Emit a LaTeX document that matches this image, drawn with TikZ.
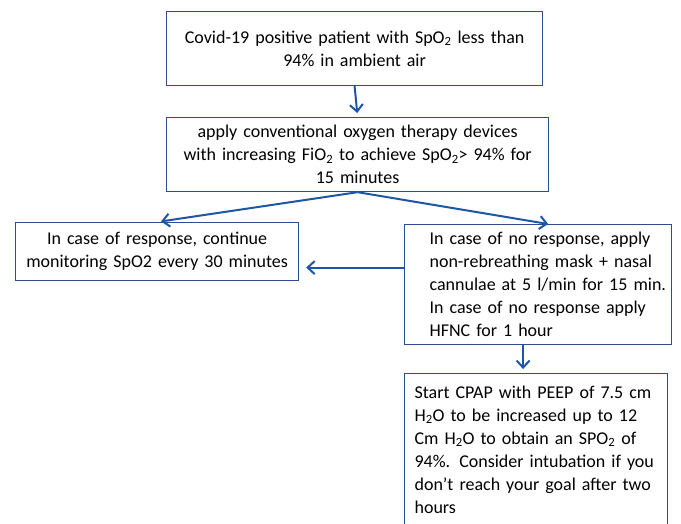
\documentclass[tikz,border=0pt]{standalone}
\usepackage{fontspec}
\setmainfont{Carlito}
\usetikzlibrary{arrows.meta}
\definecolor{boxblue}{HTML}{2C4D8F}
\definecolor{arrowblue}{HTML}{1F55A5}
\tikzset{
  box/.style={draw=boxblue, line width=1.2pt, rectangle, anchor=north west,
    inner ysep=3pt, font=\fontsize{18}{23}\selectfont},
  arr/.style={draw=arrowblue, line width=2pt,
    -{Straight Barb[length=7pt,width=13pt]}}
}
\begin{document}
\begin{tikzpicture}[x=1pt,y=-1pt]
\useasboundingbox (0,0) rectangle (681,524);
\clip (0,0) rectangle (681,524);

% --- the patient at the start
\node[box, minimum width=376pt, minimum height=74pt, inner xsep=4pt,
  text width=368pt, align=center] (covid) at (166,11)
  {Covid-19 positive patient with SpO\textsubscript{2} less than\\
   94\%  in ambient air};

% --- first therapy
\node[box, minimum width=382pt, minimum height=74pt, inner xsep=4pt,
  text width=374pt, align=center] (conv) at (166,117)
  {apply conventional oxygen therapy devices\\
   with increasing FiO\textsubscript{2} to achieve SpO\textsubscript{2}> 94\% for\\
   15 minutes};

% --- the two outcomes
\node[box, minimum width=283pt, minimum height=58pt, inner xsep=4pt,
  text width=275pt, align=center] (resp) at (15,222)
  {In case of response, continue\\
   monitoring SpO2 every 30 minutes};

\node[box, minimum width=267pt, minimum height=120pt, inner xsep=2pt,
  text width=263pt, align=left] (noresp) at (404,224)
  {\leftskip=23pt In case of no response, apply\\
   non-rebreathing mask + nasal\\
   cannulae at 5 l/min for 15 min.\\
   In case of no response apply\\
   HFNC for 1 hour\par};

% ---- last step, runs off the page
\node[box, inner xsep=10pt, inner ysep=12pt, text width=243pt, align=left,
  text depth=160pt] (cpap) at (404,373)
  {Start CPAP with PEEP of 7.5 cm\\
   H\textsubscript{2}O to be increased up to 12\\
   Cm H\textsubscript{2}O to obtain an SPO\textsubscript{2} of\\
   94\%. Consider intubation if you\\
   don't reach your goal after two\\
   hours};

% --- arrows
\draw[arr, shorten >=4pt] (covid.south) -- (conv.north);
\draw[arr, shorten >=4pt] (conv.south) -- (resp.north);
\draw[arr] (conv.south) -- ([xshift=10pt]noresp.north);

\coordinate (side) at ([yshift=17pt]noresp.west);
\draw[arr, shorten >=7pt] (side) -- (side -| resp.east);

\coordinate (down) at ([xshift=-15pt]noresp.south);
\draw[arr, shorten >=4pt] (down) -- (down |- cpap.north);
\end{tikzpicture}
\end{document}
